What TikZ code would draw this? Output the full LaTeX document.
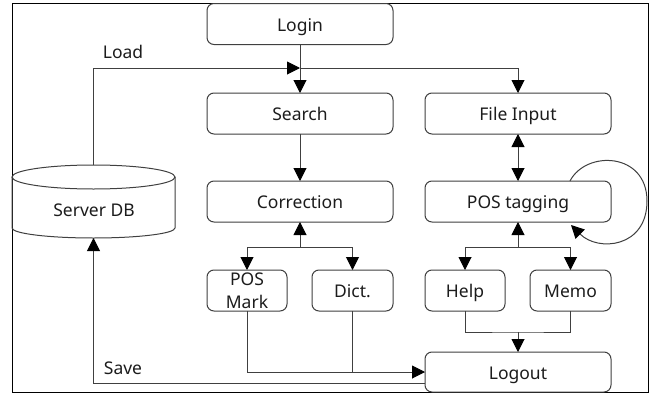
\documentclass[tikz,border=0pt]{standalone}
\usepackage{fontspec}
\setmainfont{Noto Sans}
\usetikzlibrary{arrows.meta}
\definecolor{edge}{HTML}{404040}
\definecolor{ink}{HTML}{1C1C1C}
\begin{document}
\begin{tikzpicture}[x=1pt,y=-1pt,
  tip/.tip={Triangle[length=13pt,width=13pt,color=black]},
  box/.style={draw=edge, line width=1pt, rounded corners=7pt,
    minimum width=186pt, minimum height=41pt, inner sep=0pt, outer sep=0pt,
    text=ink, font=\fontsize{17.5}{23}\selectfont, text height=14pt, text depth=0pt},
  smallbox/.style={box, minimum width=80pt},
  lbl/.style={text=ink, inner sep=0pt, font=\fontsize{17.5}{23}\selectfont},
  wire/.style={draw=edge, line width=1pt},
  arr/.style={wire, -tip},
  darr/.style={wire, tip-tip}
]
\useasboundingbox (0,0) rectangle (657,394);
\fill[white] (0,0) rectangle (657,394);
% outer frame
\draw[black, line width=1pt] (12,3) rectangle (648,392);

% boxes
\node[box] (login) at (300,24) {Login};
\node[box] (search) at (300,113.5) {Search};
\node[box] (fileinput) at (518,113.5) {File Input};
\node[box] (correction) at (300,201.5) {Correction};
\node[box] (postag) at (518,201.5) {POS tagging};
\node[smallbox, align=center, text height=, text depth=] (posmark) at (247,290.5) {POS\\Mark};
\node[smallbox, minimum width=81pt] (dict) at (352.5,290.5) {Dict.};
\node[smallbox] (help) at (465,290.5) {Help};
\node[smallbox, minimum width=81pt] (memo) at (570.5,290.5) {Memo};
\node[box, minimum height=40pt] (logout) at (518,372) {Logout};

% database cylinder
\coordinate (db) at (93.5,201.5);
\coordinate (db top) at (93.5,165);
\coordinate (db bottom) at (93.5,238);
\draw[edge, line width=1pt] (12,177)
  -- (12,228) arc[start angle=180, end angle=360, x radius=81.5, y radius=-10]
  -- (175,177);
\draw[edge, line width=1pt] (93.5,177) ellipse[x radius=81.5, y radius=12];
\node[lbl] (dbtext) at (94,210) {Server DB};

% labels
\node[lbl] (load) at (123,52) {Load};
\node[lbl] (save) at (123,368) {Save};

% junctions
\coordinate (jload) at (300,68);
\coordinate (jcor) at (300,247);
\coordinate (jtag) at (518,247);
\coordinate (jhm) at (518,332);

% connectors
\draw[arr] (login) -- (search);
\draw[arr] (db top) |- (jload);
\draw[arr] (jload) -| (fileinput.north);
\draw[arr] (search) -- (correction);
\draw[darr] (fileinput) -- (postag);

\draw[arr] (jcor) -- (correction.south);
\draw[arr] (jcor) -| (posmark.north);
\draw[arr] (jcor) -| (dict.north);

\draw[arr] (jtag) -- (postag.south);
\draw[arr] (jtag) -| (help.north);
\draw[arr] (jtag) -| (memo.north);

\draw[wire] (help.south) |- (jhm) -| (memo.south);
\draw[arr] (jhm) -- (logout.north);

\draw[arr] (posmark.south) |- (logout.west);
\draw[wire] (dict.south) -- (dict.south |- logout.west);
\draw[arr] ([yshift=-11pt]logout.west) -| (db bottom);

% self loop on POS tagging
\draw[arr] ([xshift=52pt]postag.north) .. controls (586,150) and (647,152) .. (647,201)
  .. controls (647,248) and (598,252) .. ([xshift=53pt,yshift=-3pt]postag.south);
\end{tikzpicture}
\end{document}
